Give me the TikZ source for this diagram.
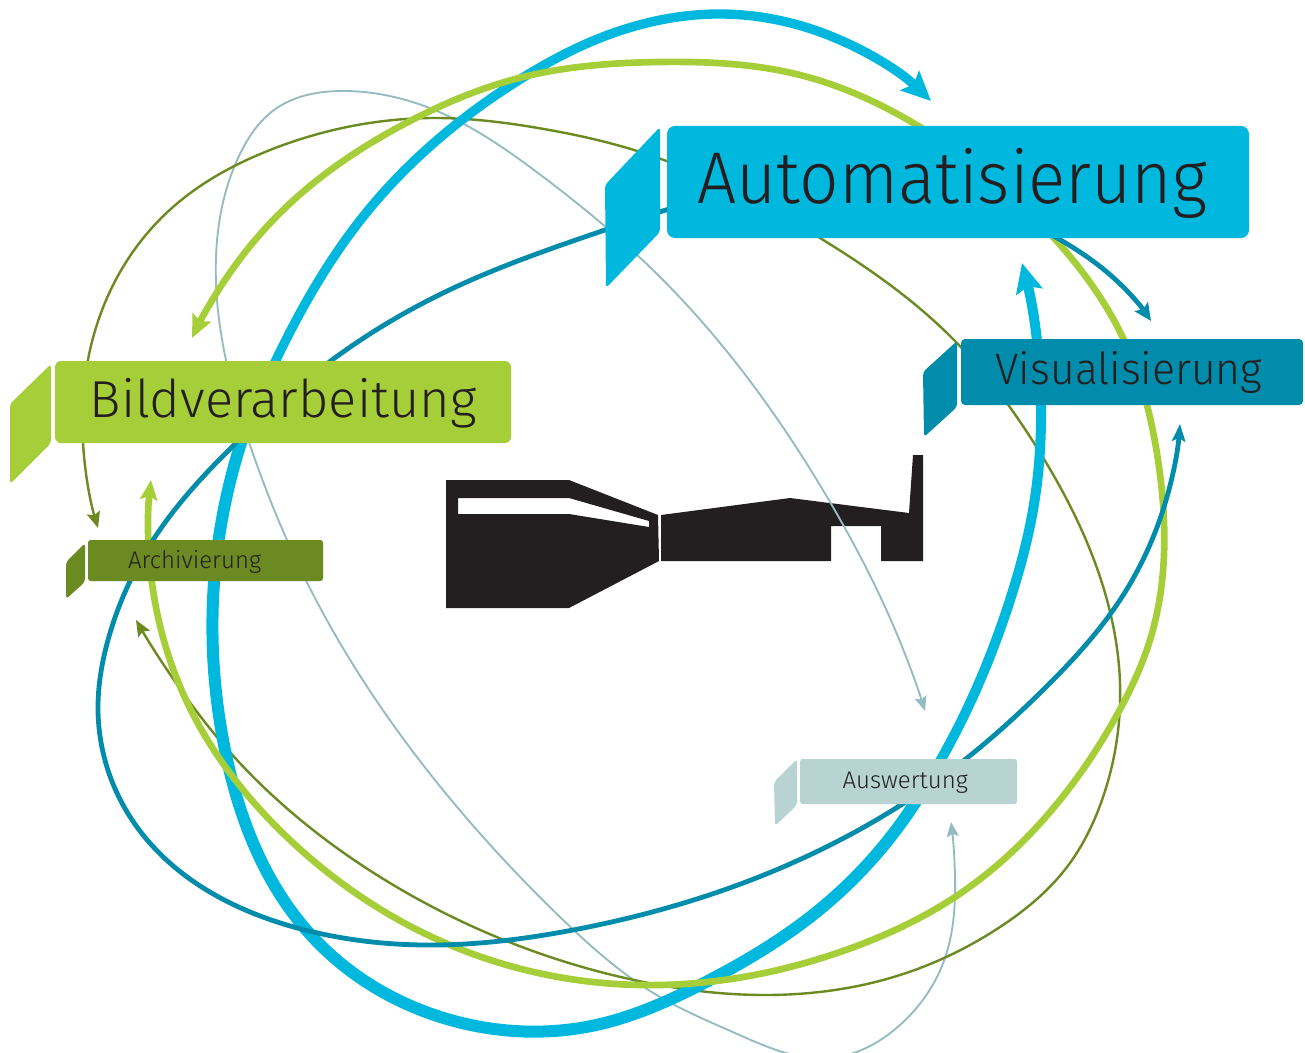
\documentclass[tikz,border=0pt]{standalone}
\usepackage{fontspec}
\setmainfont{Fira Sans Light}
\usetikzlibrary{arrows.meta,hobby}
\definecolor{cyanA}{HTML}{00B8DE}
\definecolor{limeB}{HTML}{A6CE39}
\definecolor{tealV}{HTML}{008CAA}
\definecolor{oliveA}{HTML}{6B8A21}
\definecolor{paleT}{HTML}{B7D3D2}
\definecolor{paleL}{HTML}{93BBC0}
\definecolor{inkK}{HTML}{231F20}
\tikzset{
 use Hobby shortcut,
 tipC/.tip={Stealth[length=22pt,width=20pt,inset=4pt]},
 lbl/.style={inner sep=0pt,align=left,text=inkK},
 wing/.style={rounded corners=2.5pt},
 curveC/.style={draw=cyanA,line width=7pt},
 curveCw/.style={draw=cyanA,line width=9pt},
 curveL/.style={draw=limeB,line width=5pt,{Stealth[length=17pt,width=15pt,inset=3pt]}-{Stealth[length=15pt,width=13pt,inset=3pt]}},
 curveT/.style={draw=tealV,line width=3.6pt,{Stealth[length=13pt,width=12pt,inset=2.5pt]}-{Stealth[length=13pt,width=10pt,inset=2.5pt]}},
 curveO/.style={draw=oliveA,line width=1.8pt,{Stealth[length=12pt,width=10pt,inset=2pt]}-{Stealth[length=12pt,width=10pt,inset=2pt]}},
 curveP/.style={draw=paleL,line width=1.4pt,{Stealth[length=11pt,width=9pt,inset=2pt]}-{Stealth[length=11pt,width=9pt,inset=2pt]}},
}
\begin{document}
\begin{tikzpicture}[x=0.75pt,y=-0.75pt]
\useasboundingbox (0,0) rectangle (1305,1052);
\clip (0,0) rectangle (1305,1052);
% silhouette
\fill[inkK,even odd rule] (446,480)--(569,480)--(658,515)--(659,561)--(569,608)--(446,608)--cycle
 (458,498)--(569,498)--(649,521)--(649,527)--(569,514)--(458,514)--cycle;
\fill[inkK] (661,515)--(790,498)--(909,513)--(913,455)--(923,455)--(923,561)--(881,561)--(881,526)--(831,526)--(831,561)--(661,561)--cycle;
% free ends
\coordinate (pA) at (925,711); \coordinate (pB) at (951,822);
\coordinate (oA) at (98,528);  \coordinate (oB) at (136,620);
\coordinate (tA) at (1151,321); \coordinate (tB) at (1180,424);
\coordinate (lA) at (192,338); \coordinate (lB) at (151,480);
\coordinate (cA) at (931,101); \coordinate (cB) at (1022,263);
\coordinate (cM) at (247,425); \coordinate (cN) at (930,778);
% curves
\draw[curveP] (pA) .. (890,618) .. (830,502) .. (660,277) .. (538,173) .. (427,107) .. (345,91) .. (274,110) .. (242,150) .. (216,257) .. (250,445) .. (316,600) .. (443,790) .. (560,917) .. (660,997) .. (735,1033) .. (830,1058) .. (900,1025) .. (945,958) .. (955,877) .. (pB);
\draw[curveO] (oA) .. (83,443) .. (90,350) .. (123,267) .. (173,207) .. (270,150) .. (435,118) .. (538,128) .. (634,150) .. (820,238) .. (954,340) .. (1034,443) .. (1107,600) .. (1120,683) .. (1102,800) .. (1067,867) .. (1000,927) .. (900,975) .. (765,995) .. (634,980) .. (504,940) .. (385,880) .. (297,817) .. (228,750) .. (186,697) .. (oB);
\draw[curveC,tipC-] (cA) .. (820,32) .. (720,14) .. (600,38) .. (519,80) .. (366,213) .. (276,360) .. (cM);
\draw[curveCw] (cM) .. (213,600) .. (225,750) .. (309,933) .. (462,1023) .. (596,1025) .. (704,983) .. (819,910) .. (cN);
\draw[curveC,line width=7.5pt,-tipC] (cN) .. (950,743) .. (1010,600) .. (1033,510) .. (1041,420) .. (cB);
\draw[curveL] (lA) .. (223,283) .. (280,213) .. (412,120) .. (519,78) .. (660,62) .. (800,75) .. (920,127) .. (1054,238) .. (1123,338) .. (1158,460) .. (1150,640) .. (1118,713) .. (1060,800) .. (955,897) .. (854,947) .. (640,985) .. (450,945) .. (290,840) .. (186,700) .. (153,590) .. (lB);
\draw[curveT] (tA) .. (1108,273) .. (1057,238) .. (860,178) .. (605,230) .. (443,293) .. (332,360) .. (236,443) .. (155,537) .. (108,640) .. (98,710) .. (137,827) .. (305,930) .. (424,945) .. (573,930) .. (783,867) .. (904,803) .. (967,758) .. (1043,690) .. (1120,600) .. (1163,510) .. (tB);
% boxes
\fill[cyanA,wing] (660,127)--(660,232)--(606,288)--(605,185)--cycle;
\node[lbl,fill=cyanA,rounded corners=6pt,text width=436.5pt,text height=57.75pt,text depth=26.25pt,font=\fontsize{55pt}{55pt}\selectfont\addfontfeature{FakeStretch=0.945}] (auto) at (958,182) {\hspace*{23pt}Automatisierung};
\fill[limeB,wing] (51,364)--(51,443)--(10,484)--(10,404)--cycle;
\node[lbl,fill=limeB,rounded corners=4.5pt,text width=342pt,text height=42pt,text depth=19.5pt,font=\fontsize{39pt}{39pt}\selectfont\addfontfeature{FakeStretch=1.008}] (bild) at (283,402) {\hspace*{26pt}Bildverarbeitung};
\fill[oliveA,wing] (85,543)--(85,582)--(66,599)--(66,562)--cycle;
\node[lbl,fill=oliveA,rounded corners=2pt,text width=176.25pt,text height=21pt,text depth=9.75pt,font=\fontsize{18pt}{18pt}\selectfont] (arch) at (205.5,560.5) {\hspace*{30pt}Archivierung};
\fill[tealV,wing] (957,341)--(957,407)--(924,437)--(923,372)--cycle;
\node[lbl,fill=tealV,rounded corners=3pt,text width=256.5pt,text height=33.75pt,text depth=15.75pt,font=\fontsize{33pt}{33pt}\selectfont\addfontfeature{FakeStretch=0.97}] (vis) at (1132,372) {\hspace*{26pt}Visualisierung};
\fill[paleT,wing] (797,759)--(797,805)--(775,826)--(774,782)--cycle;
\node[lbl,fill=paleT,rounded corners=2pt,text width=162.75pt,text height=21.75pt,text depth=12pt,font=\fontsize{18pt}{18pt}\selectfont] (ausw) at (908.5,781.5) {\hspace*{32pt}Auswertung};
\end{tikzpicture}
\end{document}
